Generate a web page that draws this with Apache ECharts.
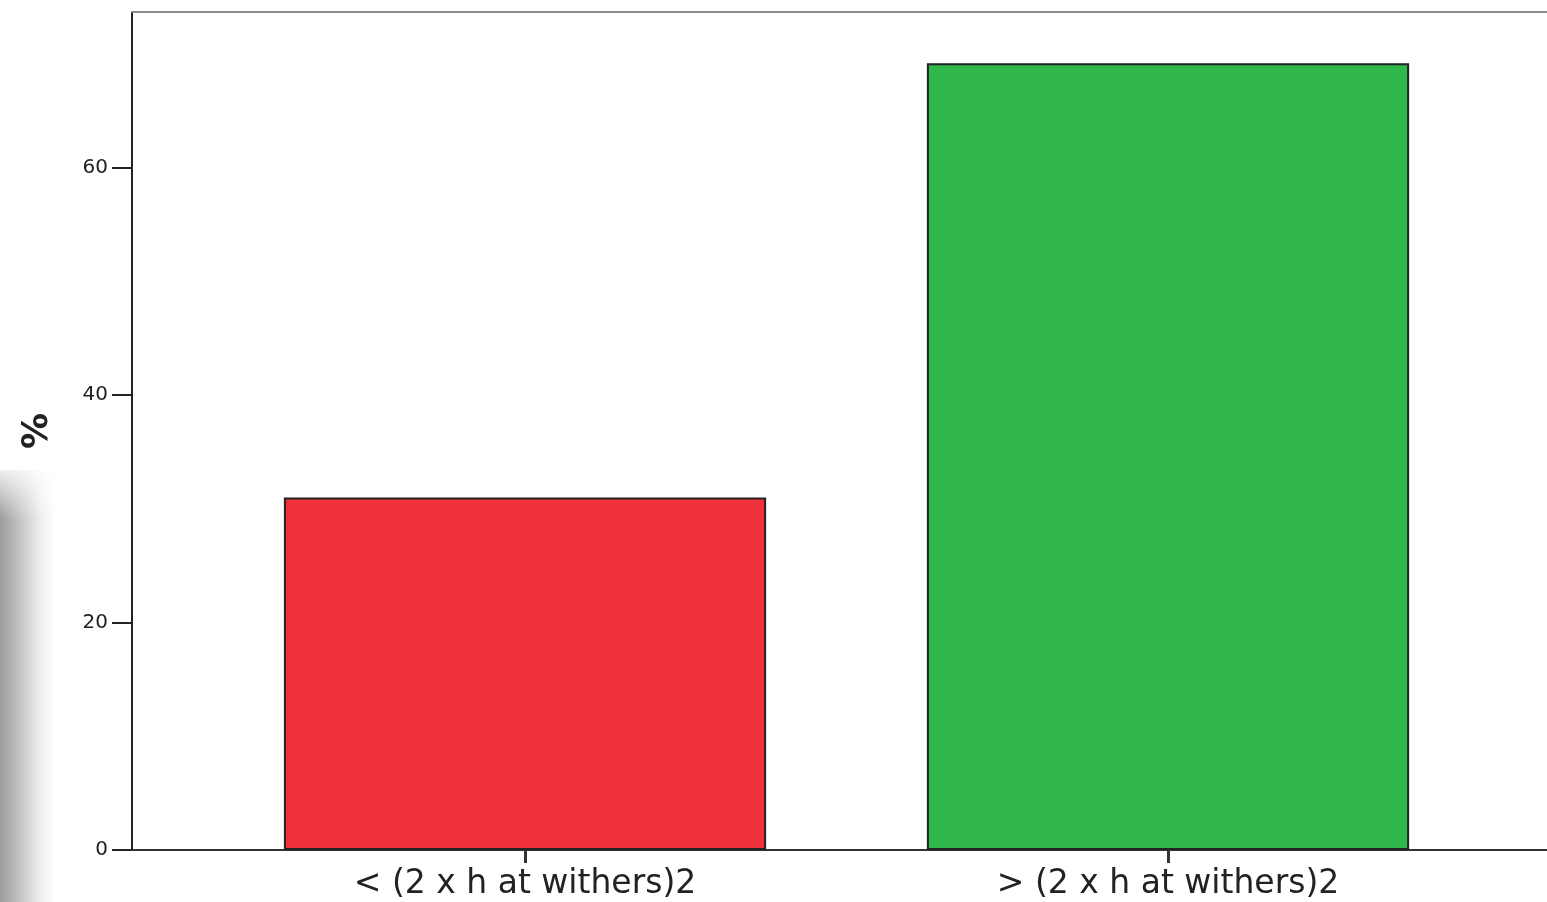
<!DOCTYPE html>
<html><head><meta charset="utf-8">
<script src="https://cdn.jsdelivr.net/npm/echarts@6/dist/echarts.min.js"></script>
<style>html,body{margin:0;padding:0;background:#fff}#c{width:1547px;height:902px}</style>
</head><body><div id="c"></div>
<script>
const categories = ['< (2 x h at withers)2', '> (2 x h at withers)2'];
const percentValues = [31.0, 69.2];
const barColors = ['#EF3239', '#2FB74A'];
const yTicks = [0, 20, 40, 60];

const chart = echarts.init(document.getElementById('c'));
const font = 'DejaVu Sans, Verdana, sans-serif';
chart.setOption({
  animation: false,
  backgroundColor: '#fff',
  graphic: [{
    type: 'rect', left: 0, top: 470, z: -10,
    shape: {width: 55, height: 432},
    style: {fill: new echarts.graphic.LinearGradient(0, 0, 1, 0, [
      {offset: 0, color: 'rgba(155,155,155,1)'},
      {offset: 0.35, color: 'rgba(195,195,195,1)'},
      {offset: 0.75, color: 'rgba(240,240,240,1)'},
      {offset: 1, color: 'rgba(255,255,255,1)'}])}
  }, {
    type: 'rect', left: 0, top: 460, z: -9,
    shape: {width: 55, height: 60},
    style: {fill: new echarts.graphic.LinearGradient(0, 0, 0, 1, [
      {offset: 0, color: 'rgba(255,255,255,1)'},
      {offset: 1, color: 'rgba(255,255,255,0)'}])}
  }],
  grid: [
    {left: 132, right: -10, top: 12, bottom: 52, outerBoundsMode: 'none', containLabel: false},
    {left: 203.5, width: 1286, top: 12, bottom: 52, outerBoundsMode: 'none', containLabel: false}
  ],
  xAxis: [
    {gridIndex: 0, type: 'value', position: 'top', min: 0, max: 1,
     axisLine: {show: true, onZero: false, lineStyle: {color: '#8a8a8a', width: 2}},
     axisTick: {show: false}, axisLabel: {show: false}, splitLine: {show: false}},
    {gridIndex: 0, type: 'value', position: 'bottom', min: 0, max: 1,
     axisLine: {show: true, onZero: false, lineStyle: {color: '#333', width: 2}},
     axisTick: {show: false}, axisLabel: {show: false}, splitLine: {show: false}},
    {gridIndex: 1, type: 'category', data: categories, position: 'bottom',
     axisLine: {show: false},
     axisTick: {show: true, alignWithLabel: true, length: 13, lineStyle: {color: '#333', width: 3}},
     axisLabel: {color: '#222', fontSize: 33, fontFamily: font, margin: 18}}
  ],
  yAxis: [
    {gridIndex: 0, type: 'value', min: 0, max: 73.7, interval: 20,
     name: '%', nameLocation: 'middle', nameGap: 76,
     nameTextStyle: {fontSize: 36, fontWeight: 'bold', color: '#222', fontFamily: font},
     axisLine: {show: true, onZero: false, lineStyle: {color: '#222', width: 2}},
     axisTick: {show: true, length: 20, customValues: yTicks, lineStyle: {color: '#222', width: 2}},
     axisLabel: {color: '#222', fontSize: 20, fontFamily: font, margin: 24, customValues: yTicks},
     splitLine: {show: false}},
    {gridIndex: 1, type: 'value', min: 0, max: 73.7, show: false}
  ],
  series: [{
    type: 'bar', xAxisIndex: 2, yAxisIndex: 1, barWidth: '75%',
    data: percentValues.map((v, i) => ({value: v, itemStyle: {color: barColors[i]}})),
    itemStyle: {borderColor: '#222', borderWidth: 2}
  }]
});
</script></body></html>
